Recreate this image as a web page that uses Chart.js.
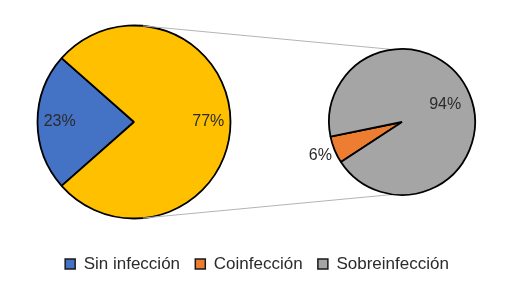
<!DOCTYPE html>
<html>
<head>
<meta charset="utf-8">
<script src="https://cdn.jsdelivr.net/npm/chart.js@4/dist/chart.umd.min.js"></script>
<style>
  html, body { margin: 0; padding: 0; background: #ffffff; }
  #wrap { position: relative; width: 514px; height: 295px; overflow: hidden; background: #ffffff; }
  #wrap canvas { position: absolute; left: 0; top: 0; }
</style>
</head>
<body>
<div id="wrap">
  <canvas id="pieMain" width="514" height="295"></canvas>
  <canvas id="pieSub" width="514" height="295"></canvas>
</div>
<script>
// ---------------- DATA ----------------
const mainCategories = ['Sin infección', 'Con infección'];
const mainValues = [23, 77];
const subCategories = ['Coinfección', 'Sobreinfección'];
const subValues = [6, 94];
const legendCategories = ['Sin infección', 'Coinfección', 'Sobreinfección'];

// ---------------- STYLE ----------------
const FONT = "'Liberation Sans', Arial, sans-serif";
const TEXT_COLOR = '#2b2b2b';
const mainColors = ['#4472C4', '#FFC000'];
const subColors = ['#ED7D31', '#A5A5A5'];
const mainLabelRadius = [0.77, 0.77];
const subLabelRadius = [1.21, 0.64];

// percentage labels drawn at each arc's mid angle
function pctLabels(factors) {
  return {
    id: 'pctLabels',
    afterDatasetsDraw(chart) {
      const ctx = chart.ctx;
      const meta = chart.getDatasetMeta(0);
      const vals = chart.data.datasets[0].data;
      const total = vals.reduce((a, b) => a + b, 0);
      ctx.save();
      ctx.font = '16px ' + FONT;
      ctx.fillStyle = TEXT_COLOR;
      ctx.textAlign = 'center';
      ctx.textBaseline = 'middle';
      meta.data.forEach((arc, i) => {
        const p = arc.getProps(['x', 'y', 'startAngle', 'endAngle', 'outerRadius'], true);
        const mid = (p.startAngle + p.endAngle) / 2;
        const r = p.outerRadius * factors[i];
        const txt = Math.round(vals[i] / total * 100) + '%';
        ctx.fillText(txt, p.x + Math.cos(mid) * r, p.y + Math.sin(mid) * r);
      });
      ctx.restore();
    }
  };
}

const mainChart = new Chart(document.getElementById('pieMain'), {
  type: 'pie',
  data: {
    labels: mainCategories,
    datasets: [{
      data: mainValues,
      backgroundColor: mainColors,
      borderColor: '#000000',
      borderWidth: 1.8,
      radius: 96.5
    }]
  },
  options: {
    responsive: false,
    animation: false,
    rotation: 228.6,
    layout: { padding: { left: 0, top: 0, right: 246, bottom: 51 } },
    plugins: { legend: { display: false }, tooltip: { enabled: false } }
  },
  plugins: [pctLabels(mainLabelRadius)]
});

// connector lines between the two pies
const connectors = {
  id: 'connectors',
  beforeDatasetsDraw(chart) {
    const a = mainChart.getDatasetMeta(0).data[0];
    const b = chart.getDatasetMeta(0).data[0];
    if (!a || !b) return;
    const ctx = chart.ctx;
    const deg = d => d * Math.PI / 180;
    const pt = (arc, ang) => [arc.x + Math.cos(deg(ang)) * arc.outerRadius, arc.y + Math.sin(deg(ang)) * arc.outerRadius];
    ctx.save();
    ctx.strokeStyle = '#b4b4b4';
    ctx.lineWidth = 1;
    [[-84.7, -97], [84.7, 97]].forEach(([aa, bb]) => {
      const p1 = pt(a, aa), p2 = pt(b, bb);
      ctx.beginPath();
      ctx.moveTo(p1[0], p1[1]);
      ctx.lineTo(p2[0], p2[1]);
      ctx.stroke();
    });
    ctx.restore();
  }
};

const subChart = new Chart(document.getElementById('pieSub'), {
  type: 'pie',
  data: {
    labels: subCategories,
    datasets: [{
      data: subValues,
      backgroundColor: subColors,
      borderColor: '#000000',
      borderWidth: 1.8,
      radius: 73
    }]
  },
  options: {
    responsive: false,
    animation: false,
    rotation: 236.8,
    layout: { padding: { left: 0, right: 0, top: 3.75, bottom: 12.5 } },
    plugins: {
      tooltip: { enabled: false },
      title: {
        display: true, text: '', position: 'left', fullSize: false,
        padding: 0, font: { size: 12, lineHeight: '290px' }
      },
      legend: {
        display: true,
        position: 'bottom',
        onClick: null,
        labels: {
          boxWidth: 10,
          boxHeight: 10,
          padding: 15.25,
          color: TEXT_COLOR,
          font: { family: FONT, size: 17 },
          generateLabels: () => legendCategories.map((name, i) => {
            let color = '#000';
            const mi = mainCategories.indexOf(name);
            const si = subCategories.indexOf(name);
            if (mi >= 0) color = mainColors[mi];
            if (si >= 0) color = subColors[si];
            return { text: name, fillStyle: color, strokeStyle: '#1a1a1a', lineWidth: 1.5, hidden: false, index: i, fontColor: TEXT_COLOR };
          })
        }
      }
    }
  },
  plugins: [connectors, pctLabels(subLabelRadius)]
});
</script>
</body>
</html>
